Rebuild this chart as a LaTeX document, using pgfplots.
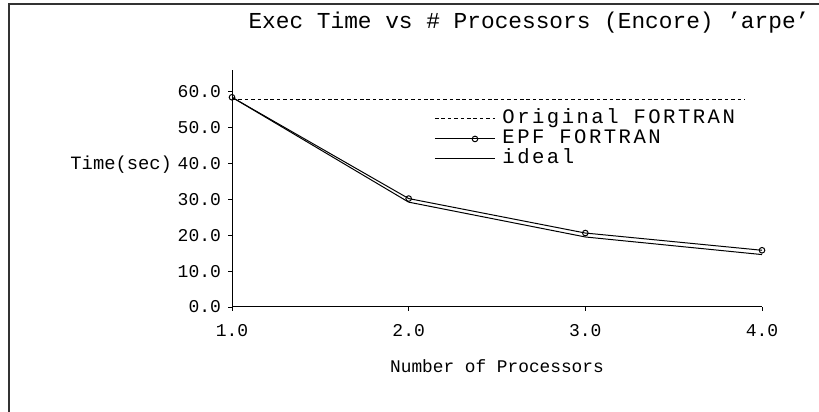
\documentclass[border=0pt]{standalone}
\usepackage{fontspec}
\setmainfont{Liberation Mono}
\newfontfamily\legfont[LetterSpace=12]{Liberation Mono}
\usepackage{pgfplots}
\pgfplotsset{compat=1.18}

\begin{document}
\begin{tikzpicture}
\useasboundingbox (0,0) rectangle (409.5pt,206pt);
% scanned page frame
\draw[line width=0.8pt, black!80] (4.5pt,0pt) -- (4.5pt,204pt) -- (409.5pt,204pt);
\node[font=\fontsize{11.4}{13}\selectfont, anchor=center] at (264.5pt,194.5pt)
  {Exec Time vs \# Processors (Encore) 'arpe'};
\begin{axis}[
    at={(116pt,52.5pt)}, anchor=south west,
    scale only axis,
    width=265pt, height=118.5pt,
    xmin=1, xmax=4, ymin=0, ymax=66,
    axis lines*=left,
    axis line style={line width=0.5pt},
    tick align=outside,
    major tick length=2pt,
    tick style={line width=0.4pt, black},
    xtick={1,2,3,4}, ytick={0,10,...,60},
    /pgf/number format/.cd, fixed, fixed zerofill, precision=1, assume math mode=true,
    /pgfplots/.cd,
    ticklabel style={font=\fontsize{9}{10}\selectfont},
    xticklabel style={yshift=-3pt},
    xlabel={Number of Processors},
    xlabel style={font=\fontsize{8.9}{10}\selectfont, yshift=-5pt},
    ylabel={Time(sec)},
    ylabel style={font=\fontsize{9.4}{10}\selectfont, rotate=-90,
                  at={(yticklabel cs:0.6)}, anchor=east, xshift=4pt},
    legend style={draw=none, fill=none, at={(0.37,0.85)}, anchor=north west,
                  font=\legfont\fontsize{10.3}{12}\selectfont, row sep=1pt,
                  nodes={inner sep=0pt, text height=7pt, text depth=2pt},
                  /tikz/every odd column/.append style={column sep=3.5pt}},
    legend cell align=left,
    legend image code/.code={%
      \draw[mark repeat=2,mark phase=2,#1] plot coordinates {(0pt,0pt) (20pt,0pt) (30pt,0pt)};},
]
\addplot[black, line width=0.5pt, dash pattern=on 1.8pt off 1.4pt] coordinates {(1,57.8) (3.9,57.8)};
\addlegendentry{Original FORTRAN}
\addplot[black, line width=0.5pt, mark=o, mark size=1.4pt, mark options={solid}] coordinates {(1,58.4) (2,30.2) (3,20.6) (4,15.8)};
\addlegendentry{EPF FORTRAN}
\addplot[black, line width=0.5pt] coordinates {(1,58.4) (2,29.2) (3,19.5) (4,14.6)};
\addlegendentry{ideal}
\end{axis}
\end{tikzpicture}
\end{document}
